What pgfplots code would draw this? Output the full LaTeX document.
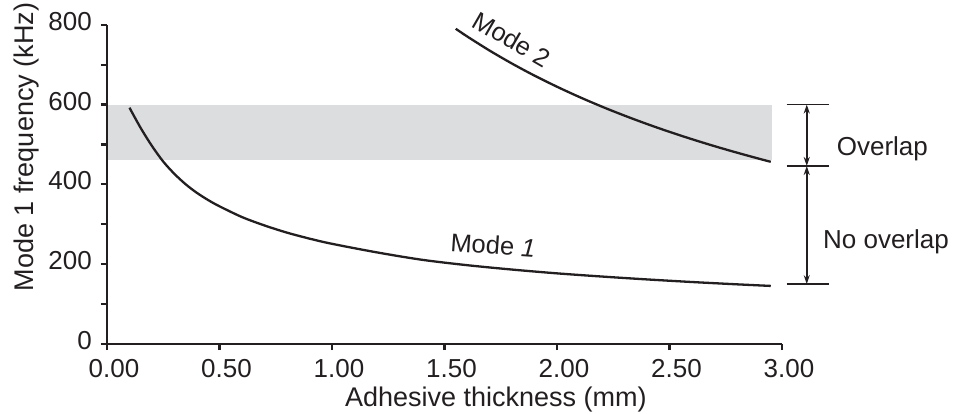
\documentclass[border=0pt]{standalone}
\usepackage{fontspec}
\setmainfont{Liberation Sans}
\usepackage{pgfplots}
\pgfplotsset{compat=1.18}
\usepackage{pgfplotstable}
\usetikzlibrary{arrows.meta}

\definecolor{ink}{RGB}{35,31,32}
\definecolor{bandgray}{RGB}{220,221,223}

% Mode 1 frequency (kHz) against adhesive thickness (mm)
\pgfplotstableread{
t     f
0.10  592
0.15  541
0.20  496
0.25  457
0.30  426
0.35  400
0.40  378.5
0.45  360.5
0.50  345
0.60  318
0.70  297
0.80  279
0.90  264
1.00  251
1.20  229.5
1.40  211
1.60  197.5
1.80  186.5
2.00  177
2.20  169
2.40  161.8
2.60  155.3
2.80  149.5
2.95  145.5
}\modeone

% Mode 2 frequency (kHz) against adhesive thickness (mm)
\pgfplotstableread{
t     f
1.55  789.8
1.60  770.8
1.70  735.3
1.80  702.6
1.90  672.4
2.00  644.6
2.10  618.7
2.20  594.6
2.30  572.2
2.40  551.2
2.50  531.5
2.60  513.1
2.70  495.7
2.80  479.4
2.90  463.9
2.95  456.5
}\modetwo

\begin{document}
\begin{tikzpicture}[font=\fontsize{26bp}{31bp}\selectfont, color=ink]
\path[use as bounding box] (0,0) rectangle (955bp,414bp);
\begin{axis}[
  at={(107bp,70bp)}, anchor=south west,
  scale only axis, width=675bp, height=319.3bp,
  xmin=0, xmax=3, ymin=0, ymax=800,
  axis x line*=bottom, axis y line*=left,
  axis on top,
  clip=false,
  axis line style={ink, line width=2.2bp},
  xtick={0,0.5,1,1.5,2,2.5,3},
  xticklabels={0.00,0.50,1.00,1.50,2.00,2.50,3.00},
  ytick={0,200,400,600,800},
  minor ytick={100,300,500,700},
  tick align=outside,
  major tick length=6bp, minor tick length=6bp,
  tick style={ink, line width=2.2bp},
  font=\fontsize{26bp}{31bp}\selectfont,
  /pgf/number format/assume math mode=true,
  xticklabel style={anchor=north, inner sep=0pt, xshift=7bp, yshift=-9bp},
  yticklabel style={anchor=east, inner sep=0pt, xshift=-9bp, yshift=3.3bp},
  xlabel={Adhesive thickness (mm)},
  xlabel style={font=\fontsize{27bp}{32bp}\selectfont,
    at={(axis description cs:0.576,-0.1964)}, anchor=base, inner sep=0pt},
  ylabel={Mode 1 frequency (kHz)},
  ylabel style={font=\fontsize{27bp}{32bp}\selectfont,
    at={(axis description cs:-0.1092,0.617)}, anchor=base, inner sep=0pt},
]
% overlap band
\addplot[draw=none, fill=bandgray, forget plot]
  coordinates {(0,460) (2.954,460) (2.954,600) (0,600)};
\addplot[ink, line width=2.3bp, smooth] table[x=t, y=f] {\modeone};
\addplot[ink, line width=2.3bp, smooth] table[x=t, y=f] {\modetwo};

\node[rotate=-30, inner sep=0pt, font=\fontsize{25.5bp}{30bp}\selectfont]
  at (axis cs:1.800,763) {Mode 2};
\node[rotate=-4, inner sep=0pt, font=\fontsize{25.5bp}{30bp}\selectfont]
  at (axis cs:1.716,248) {Mode \textit{1}};

% range brackets on the right
\draw[ink, line width=1.5bp] (axis cs:3.021,600) -- (axis cs:3.209,600);
\draw[ink, line width=1.5bp] (axis cs:3.021,446) -- (axis cs:3.209,446);
\draw[ink, line width=1.5bp] (axis cs:3.021,150) -- (axis cs:3.209,150);
\draw[ink, line width=1.8bp, {Stealth[length=9bp,width=6bp]}-{Stealth[length=9bp,width=6bp]}]
  (axis cs:3.110,600) -- (axis cs:3.110,446);
\draw[ink, line width=1.8bp, {Stealth[length=9bp,width=6bp]}-{Stealth[length=9bp,width=6bp]}]
  (axis cs:3.110,446) -- (axis cs:3.110,150);
\node[anchor=base west, inner sep=0pt] at (axis cs:3.243,472) {Overlap};
\node[anchor=base west, inner sep=0pt] at (axis cs:3.182,240) {No overlap};
\end{axis}
\end{tikzpicture}
\end{document}
